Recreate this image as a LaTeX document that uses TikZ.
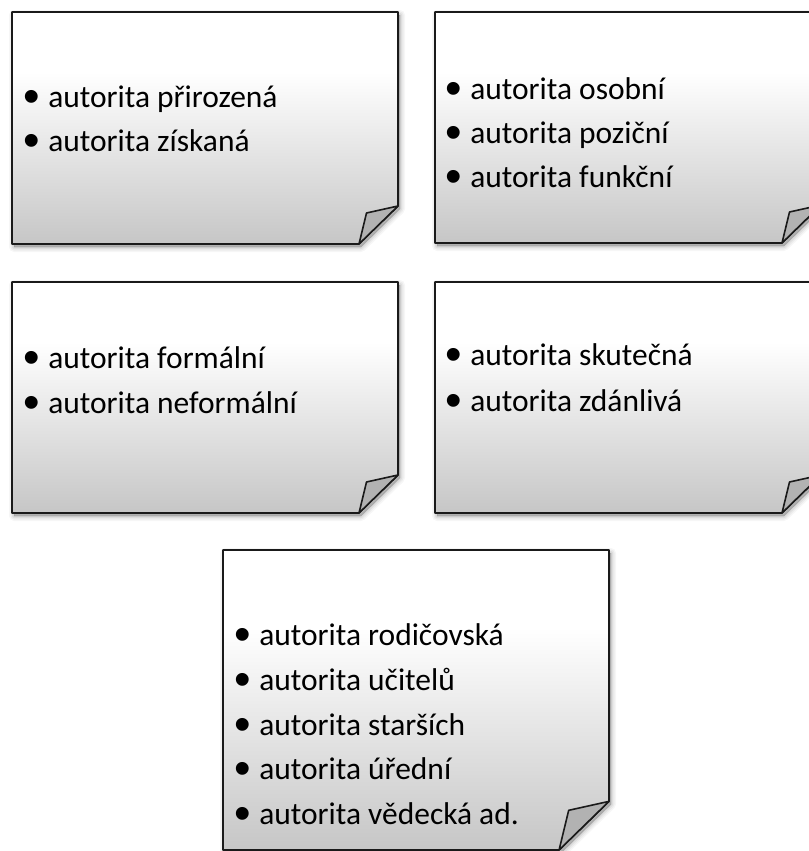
\documentclass[tikz,border=0pt]{standalone}
\usepackage{fontspec}
\setmainfont{Carlito}
\newfontfamily\bulfont{Liberation Sans}
\definecolor{gbot}{HTML}{C6C6C6}
\definecolor{foldc}{HTML}{B2B2B2}
\definecolor{edgec}{HTML}{1A1A1A}
\pgfdeclareverticalshading{notegrad}{100bp}{color(0bp)=(gbot); color(25bp)=(gbot); color(62bp)=(white); color(100bp)=(white)}
\tikzset{
  item/.style={anchor=base west, inner sep=0pt, font=\fontsize{23.6pt}{28pt}\selectfont, text=black},
  noteedge/.style={draw=edgec, line width=1.2pt, line join=round},
}
\newcommand\bul{\llap{\raisebox{-4pt}{\scalebox{1.5}{\bulfont •}}\hspace{6.5pt}}}
% L T R B scale
\newcommand\mynote[5]{%
  \pgfmathsetmacro\fx{39*#5}%
  \pgfmathsetmacro\fy{38*#5}%
  \pgfmathsetmacro\ix{31.5*#5}%
  \pgfmathsetmacro\iy{31*#5}%
  \foreach \w/\o in {10/0.035,7/0.045,4/0.06,1/0.08}{%
    \path[fill=black, fill opacity=\o, draw=black, draw opacity=\o, line width=\w*0.75pt, line join=round]
      ({#1+2},{#2+3}) -- ({#3+2},{#2+3}) -- ({#3+2},{#4-\fy+3}) -- ({#3-\fx+2},{#4+3}) -- ({#1+2},{#4+3}) -- cycle;
  }
  \shadedraw[shading=notegrad, noteedge]
    (#1,#2) -- (#3,#2) -- (#3,{#4-\fy}) -- ({#3-\fx},#4) -- (#1,#4) -- cycle;
  \filldraw[fill=foldc, noteedge]
    (#3,{#4-\fy}) -- ({#3-\ix},{#4-\iy}) -- ({#3-\fx},#4) -- cycle;
}
\begin{document}
\begin{tikzpicture}[x=0.75pt,y=-0.75pt]
\useasboundingbox (0,0) rectangle (809,851);
\clip (0,0) rectangle (809,851);
\fill[white] (0,0) rectangle (809,851);

\mynote{12}{12}{398}{244}{1}
\mynote{435}{12}{821}{243}{1}
\mynote{12}{282}{398}{513}{1}
\mynote{435}{282}{821}{513}{1}
\mynote{223}{550}{609}{850}{1.28}

\node[item] (b1a) at (48,107) {\bul autorita přirozená};
\node[item] (b1b) at (48,151) {\bul autorita získaná};

\node[item] (b2a) at (470,99) {\bul autorita osobní};
\node[item] (b2b) at (470,143) {\bul autorita poziční};
\node[item] (b2c) at (470,187) {\bul autorita funkční};

\node[item] (b3a) at (48,368) {\bul autorita formální};
\node[item] (b3b) at (48,413) {\bul autorita neformální};

\node[item] (b4a) at (470,365) {\bul autorita skutečná};
\node[item] (b4b) at (470,411) {\bul autorita zdánlivá};

\node[item] (b5a) at (259,645) {\bul autorita rodičovská};
\node[item] (b5b) at (259,690) {\bul autorita učitelů};
\node[item] (b5c) at (259,735) {\bul autorita starších};
\node[item] (b5d) at (259,779) {\bul autorita úřední};
\node[item] (b5e) at (259,824) {\bul autorita vědecká ad.};
\end{tikzpicture}
\end{document}
